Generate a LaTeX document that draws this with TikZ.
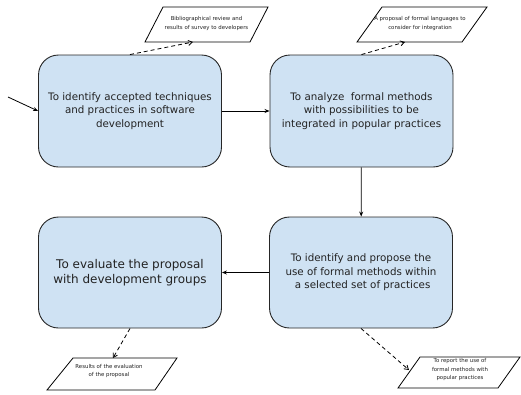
\documentclass[tikz,border=0pt]{standalone}
\usepackage{fontspec}
\setmainfont{DejaVu Sans}
\usetikzlibrary{arrows.meta}
\definecolor{boxfill}{HTML}{CFE2F3}
\definecolor{txt}{HTML}{222222}
\begin{document}
\begin{tikzpicture}[x=1pt,y=-1pt,
  procbox/.style={draw=black!85, line width=0.9pt, fill=boxfill, rounded corners=20pt,
    minimum width=183pt, minimum height=112pt, align=center, text=txt,
    font=\fontsize{10.3}{13.5}\selectfont, inner sep=0pt},
  flow/.style={-{Stealth[length=5pt,width=4pt]}, line width=0.8pt},
  dataarrow/.style={dashed, dash pattern=on 4pt off 3pt, -{Straight Barb[length=4pt,width=5pt]}, line width=0.8pt},
  datashape/.style={draw, line width=0.8pt, fill=white},
  datatext/.style={font=\fontsize{5.4}{8.5}\selectfont, align=center, text=txt, inner sep=0pt}
]
\useasboundingbox (0,0) rectangle (521,394);

% process boxes
\node[procbox] (b1) at (130,111) {To identify accepted techniques\\and practices in software\\development};
\node[procbox] (b2) at (361.5,111) {To analyze\ \ formal methods\\with possibilities to be\\integrated in popular practices};
\node[procbox, minimum height=111pt] (b3) at (361,272.5) {To identify and propose the\\use of formal methods within\\\ a selected set of practices};
\node[procbox, minimum height=111pt, font=\fontsize{12}{15}\selectfont] (b4) at (130,272.5) {To evaluate the proposal\\with development groups};

% data parallelograms
\draw[datashape] (163,7) -- (268,7) -- (250,42) -- (145,42) -- cycle;
\node[datatext] (t1) at (206.5,23.5) {Bibliographical review and\\results of survey to developers};
\coordinate (e1) at (193,42);

\draw[datashape] (382,7) -- (487,7) -- (462,42) -- (357,42) -- cycle;
\node[datatext] (t2) at (420,23.5) {A proposal of formal languages to\\consider for integration};
\coordinate (e2) at (405,42);

\draw[datashape] (73,358) -- (177,358) -- (155,390) -- (47,390) -- cycle;
\node[datatext] (t3) at (109,371) {Results of the evaluation\\of the proposal};
\coordinate (e3) at (113,358);

\draw[datashape] (420,357) -- (520,357) -- (498,388) -- (398,388) -- cycle;
\node[datatext] (t4) at (460,370) {To report the use of\\formal methods with\\popular practices};
\coordinate (e4) at (409,370);

% connectors
\coordinate (start) at (8,97);
\draw[flow] (start) -- (b1.west);
\draw[flow] (b1) -- (b2);
\draw[flow] (b2) -- (b3);
\draw[flow] (b3) -- (b4);

\draw[dataarrow] (b1.north) -- (e1);
\draw[dataarrow] (b2.north) -- (e2);
\draw[dataarrow] (b4.south) -- (e3);
\draw[dataarrow] (b3.south) -- (e4);
\end{tikzpicture}
\end{document}
